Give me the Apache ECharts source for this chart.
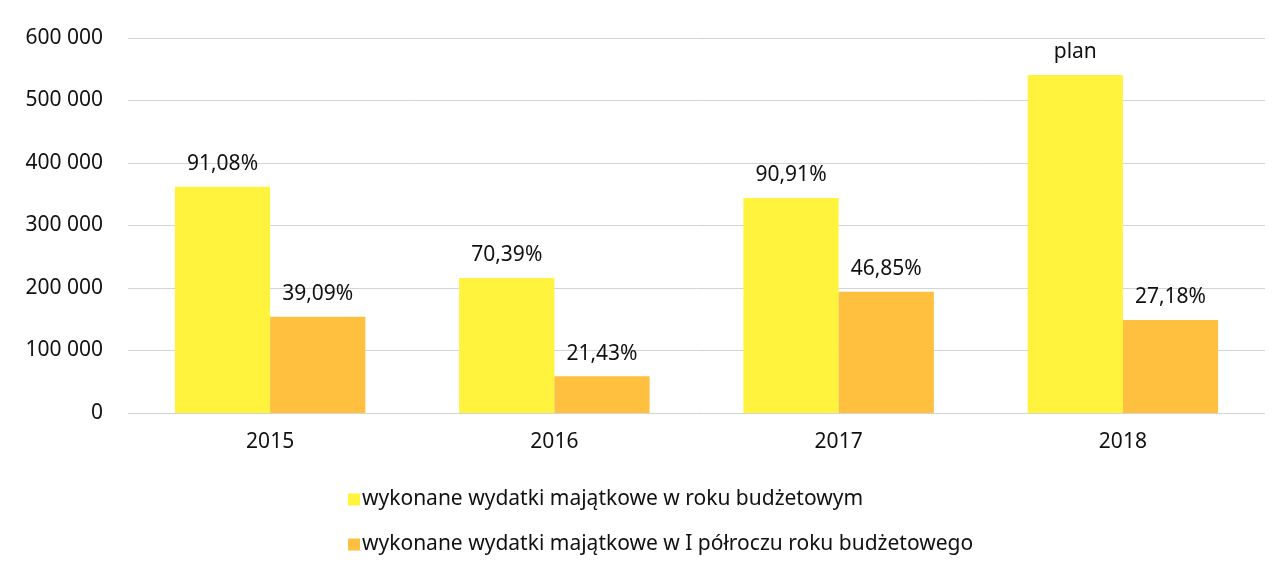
<!DOCTYPE html>
<html>
<head>
<meta charset="utf-8">
<script src="https://cdn.jsdelivr.net/npm/echarts@6/dist/echarts.min.js"></script>
<style>
    html, body { margin: 0; padding: 0; background: #fff; }
    #chart { width: 1287px; height: 574px; }
</style>
</head>
<body>
<div id="chart"></div>
<script>
// Data
var years = ['2015', '2016', '2017', '2018'];
var yearSpending = [362000, 216000, 344000, 541000];
var halfYearSpending = [154000, 59000, 194000, 149000];
var yearLabels = ['91,08%', '70,39%', '90,91%', 'plan'];
var halfYearLabels = ['39,09%', '21,43%', '46,85%', '27,18%'];
var seriesNames = [
    'wykonane wydatki majątkowe w roku budżetowym',
    'wykonane wydatki majątkowe w I półroczu roku budżetowego'
];

// Format numbers with a space as the thousands separator
function formatThousands(v) {
    return String(v).replace(/\B(?=(\d{3})+(?!\d))/g, ' ');
}

var chart = echarts.init(document.getElementById('chart'));

chart.setOption({
    animation: false,
    textStyle: { fontFamily: 'Noto Sans' },
    grid: { left: 128, right: 22, top: 38, bottom: 161 },
    legend: {
        orient: 'vertical',
        left: 343,
        top: 484,
        itemGap: 24,
        itemWidth: 12,
        itemHeight: 12,
        icon: 'rect',
        textStyle: { fontSize: 21, color: '#111', padding: [0, 0, 0, -3] },
        data: seriesNames
    },
    xAxis: {
        type: 'category',
        data: years,
        axisLine: { show: false },
        axisTick: { show: false },
        axisLabel: { fontSize: 21, color: '#111', margin: 19 }
    },
    yAxis: {
        type: 'value',
        min: 0,
        max: 600000,
        interval: 100000,
        axisLine: { show: false },
        axisTick: { show: false },
        axisLabel: {
            fontSize: 21,
            color: '#111',
            margin: 25,
            formatter: formatThousands
        },
        splitLine: { lineStyle: { color: '#d4d4d4', width: 1 } }
    },
    series: [
        {
            name: seriesNames[0],
            type: 'bar',
            data: yearSpending,
            barGap: '0%',
            barCategoryGap: '33%',
            itemStyle: { color: '#FFF33D' },
            label: {
                show: true,
                position: 'top',
                distance: 12,
                fontSize: 21,
                color: '#111',
                formatter: function(p) { return yearLabels[p.dataIndex]; }
            }
        },
        {
            name: seriesNames[1],
            type: 'bar',
            data: halfYearSpending,
            itemStyle: { color: '#FFBF3F' },
            label: {
                show: true,
                position: 'top',
                distance: 12,
                fontSize: 21,
                color: '#111',
                formatter: function(p) { return halfYearLabels[p.dataIndex]; }
            }
        }
    ]
});
</script>
</body>
</html>
